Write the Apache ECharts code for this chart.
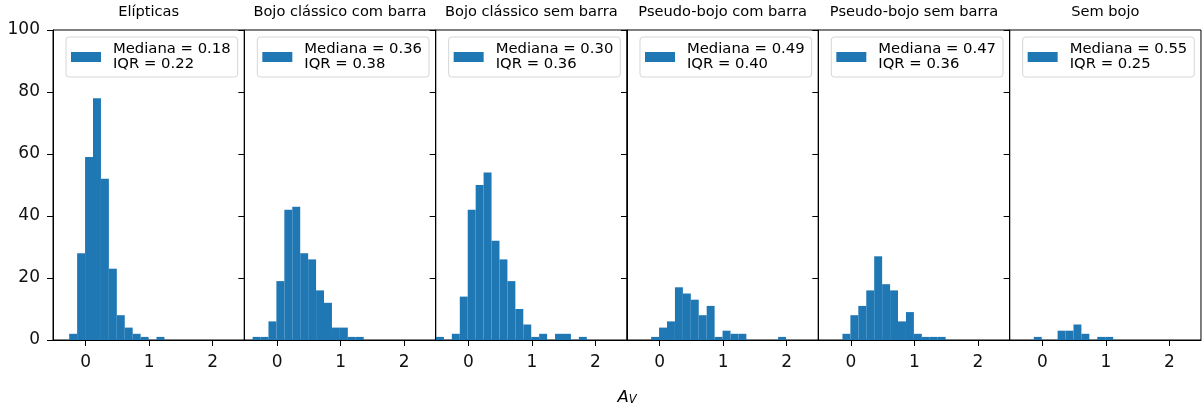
<!DOCTYPE html>
<html><head><meta charset="utf-8">
<script src="https://cdn.jsdelivr.net/npm/echarts@6/dist/echarts.min.js"></script>
<style>html,body{margin:0;padding:0;background:#fff}#c{width:1203px;height:412px}</style>
</head><body><div id="c"></div>
<script>
// ---------- data ----------
const panelTitles = ['Elípticas', 'Bojo clássico com barra', 'Bojo clássico sem barra', 'Pseudo-bojo com barra', 'Pseudo-bojo sem barra', 'Sem bojo'];
const medianas = ['0.18', '0.36', '0.30', '0.49', '0.47', '0.55'];
const iqrs = ['0.22', '0.38', '0.36', '0.40', '0.36', '0.25'];
const binEdges = [-0.51, -0.385, -0.26, -0.135, -0.01, 0.115, 0.24, 0.365, 0.49, 0.615, 0.74, 0.865, 0.99, 1.115, 1.24, 1.365, 1.49, 1.615, 1.74, 1.865, 1.99, 2.115, 2.24, 2.365, 2.49];
const countsEliptica      = [0, 0, 2, 28, 59, 78, 52, 23, 8, 4, 2, 1, 0, 1, 0, 0, 0, 0, 0, 0, 0, 0, 0, 0];
const countsClassicoBarra = [0, 1, 1, 6, 19, 42, 43, 28, 26, 16, 12, 4, 4, 1, 1, 0, 0, 0, 0, 0, 0, 0, 0, 0];
const countsClassicoSem   = [1, 0, 2, 14, 42, 50, 54, 32, 26, 19, 10, 5, 1, 2, 0, 2, 2, 0, 1, 0, 0, 0, 0, 0];
const countsPseudoBarra   = [0, 0, 0, 1, 4, 6, 17, 15, 13, 8, 11, 1, 3, 2, 2, 0, 0, 0, 0, 1, 0, 0, 0, 0];
const countsPseudoSem     = [0, 0, 0, 2, 8, 11, 16, 27, 18, 16, 6, 9, 2, 1, 1, 1, 0, 0, 0, 0, 0, 0, 0, 0];
const countsSemBojo       = [0, 0, 0, 1, 0, 0, 3, 3, 5, 2, 0, 1, 1, 0, 0, 0, 0, 0, 0, 0, 0, 0, 0, 0];
const xTickValues = [0, 1, 2];
const xLabel = 'A';
const xLabelSub = 'V';
// ---------------------------

const allCounts = [countsEliptica, countsClassicoBarra, countsClassicoSem, countsPseudoBarra, countsPseudoSem, countsSemBojo];
const FONT = 'DejaVu Sans';
const COLOR = '#1f77b4';
const PANEL_LEFT = 53, PANEL_W = 191.33, PANEL_TOP = 30, PANEL_H = 310;

const chart = echarts.init(document.getElementById('c'), null, {renderer: 'canvas'});

const grids = [], xAxes = [], yAxes = [], series = [], legends = [], titles = [];
allCounts.forEach((counts, i) => {
  const left = PANEL_LEFT + i * PANEL_W;
  const name = 'Mediana = ' + medianas[i] + '\nIQR = ' + iqrs[i];
  grids.push({left: left, top: PANEL_TOP, width: PANEL_W, height: PANEL_H, show: true, borderColor: '#000', borderWidth: 1, backgroundColor: 'transparent'});
  xAxes.push({
    type: 'value', gridIndex: i, min: -0.515, max: 2.498,
    axisLine: {show: true, onZero: false, lineStyle: {color: '#000', width: 1}},
    axisTick: {show: true, length: 6, lineStyle: {color: '#000'}, customValues: xTickValues},
    axisLabel: {show: true, fontFamily: FONT, fontSize: 17, color: '#111', margin: 14, customValues: xTickValues},
    splitLine: {show: false}
  });
  yAxes.push({
    type: 'value', gridIndex: i, min: 0, max: 100, interval: 20,
    axisLine: {show: true, onZero: false, lineStyle: {color: '#000', width: 1}},
    axisTick: {show: true, length: 6, lineStyle: {color: '#000'}},
    axisLabel: {show: i === 0, fontFamily: FONT, fontSize: 17, color: '#111', margin: 13},
    splitLine: {show: false}
  });
  series.push({
    type: 'custom', name: name, xAxisIndex: i, yAxisIndex: i,
    itemStyle: {color: COLOR},
    encode: {x: [0, 1], y: 2},
    data: counts.map((c, k) => [binEdges[k], binEdges[k + 1], c]),
    renderItem: function (params, api) {
      const c = api.value(2);
      if (!c) return null;
      const p0 = api.coord([api.value(0), 0]);
      const p1 = api.coord([api.value(1), c]);
      const cs = params.coordSys;
      const r = echarts.graphic.clipRectByRect(
        {x: p0[0], y: p1[1], width: p1[0] - p0[0], height: p0[1] - p1[1]},
        {x: cs.x, y: cs.y, width: cs.width, height: cs.height});
      return r && {type: 'rect', shape: r, style: {fill: COLOR}};
    },
    animation: false
  });
  legends.push({
    left: left + 13, top: 37, orient: 'vertical',
    data: [name], icon: 'rect', itemWidth: 30, itemHeight: 10,
    selectedMode: false,
    borderColor: '#d6d6d6', borderWidth: 1, borderRadius: 3,
    padding: [5, 7, 5, 5],
    backgroundColor: 'rgba(255,255,255,0.8)',
    textStyle: {fontFamily: FONT, fontSize: 14.8, lineHeight: 15, color: '#000', padding: [0, 0, 0, 7]}
  });
  titles.push({
    text: panelTitles[i], left: left + PANEL_W / 2, top: 5, textAlign: 'center', padding: 0,
    textStyle: {fontFamily: FONT, fontSize: 14.6, lineHeight: 15, fontWeight: 'normal', color: '#000'}
  });
});

titles.push({
  text: '{a|' + xLabel + '}{v|' + xLabelSub + '}', left: 627, top: 387, textAlign: 'center', padding: 0,
  textStyle: {
    fontWeight: 'normal',
    rich: {
      a: {fontFamily: FONT, fontSize: 16.5, fontStyle: 'italic', fontWeight: 'normal', color: '#000', lineHeight: 19, verticalAlign: 'bottom'},
      v: {fontFamily: FONT, fontSize: 11.5, fontStyle: 'italic', fontWeight: 'normal', color: '#000', lineHeight: 19, verticalAlign: 'bottom'}
    }
  }
});

chart.setOption({
  animation: false,
  backgroundColor: '#fff',
  title: titles,
  legend: legends,
  grid: grids,
  xAxis: xAxes,
  yAxis: yAxes,
  series: series
});
</script></body></html>
